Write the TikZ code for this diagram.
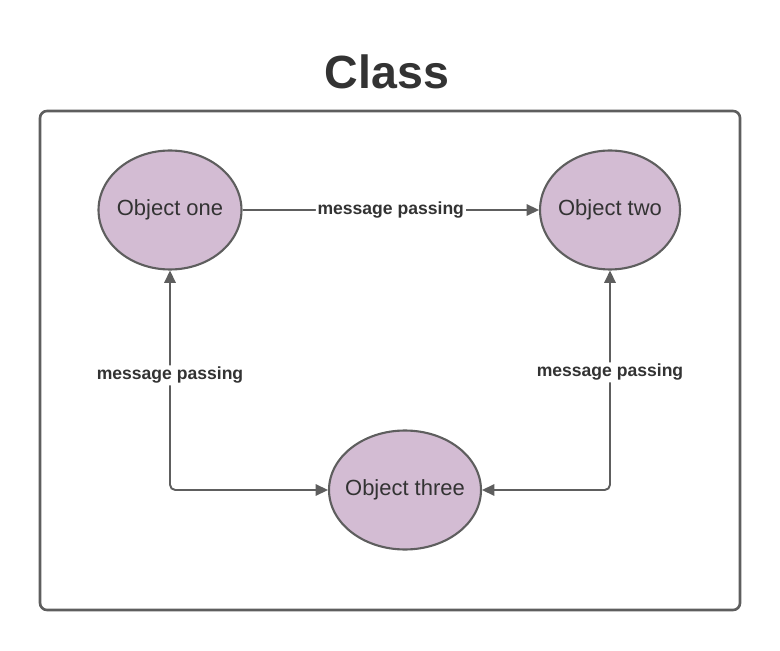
\documentclass[tikz,border=0pt]{standalone}
\usepackage{fontspec}
\setmainfont{Liberation Sans}
\usetikzlibrary{shapes.geometric,arrows.meta}
\definecolor{linea}{HTML}{5E5E5E}
\definecolor{relleno}{HTML}{D3BCD3}
\definecolor{texto}{HTML}{333333}
\begin{document}
\begin{tikzpicture}[x=0.02cm,y=-0.02cm]
% estilos
\tikzstyle{objeto}=[ellipse,draw=linea,fill=relleno,line width=1.2pt,inner sep=0pt,
  minimum width=2.86cm,minimum height=2.38cm,text=texto,font=\fontsize{12.5}{14}\selectfont];
\tikzstyle{mensaje}=[draw=linea,line width=1.1pt,rounded corners=3pt];
\tikzstyle{punta}=[-{Triangle[length=7pt,width=6.5pt]}];
\tikzstyle{puntas}=[{Triangle[length=7pt,width=6.5pt]}-{Triangle[length=7pt,width=6.5pt]}];
\tikzstyle{rotulo}=[fill=white,inner sep=1pt,text=texto,font=\fontsize{10}{12}\selectfont\bfseries];
\useasboundingbox (0,0) rectangle (780,651);
% titulo y marco
\node[text=texto,font=\fontsize{26.5}{30}\selectfont\bfseries] (titulo) at (387,72) {Class};
\draw[draw=linea,line width=1.5pt,rounded corners=4pt] (40,111) rectangle (740,610);
% objetos
\node[objeto] (uno) at (170,210) {\makebox[0pt]{Object one}};
\node[objeto,minimum width=2.8cm] (dos) at (610,210) {\makebox[0pt]{Object two}};
\node[objeto,minimum width=3.04cm] (tres) at (405,490) {\makebox[0pt]{Object three}};
% mensajes
\draw[mensaje,punta] (uno) -- (dos)
  node[rotulo,midway] (m1) {message passing};
\draw[mensaje,puntas] (tres) -| (uno)
  node[rotulo,pos=0.761] (m2) {message passing};
\draw[mensaje,puntas] (dos) |- (tres)
  node[rotulo,pos=0.232] (m3) {message passing};
\end{tikzpicture}
\end{document}
